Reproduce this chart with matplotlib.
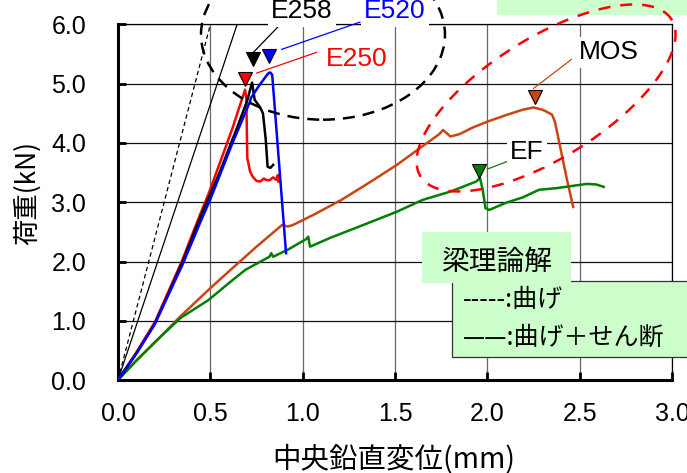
import numpy as np
import matplotlib
matplotlib.use('Agg')
import matplotlib.pyplot as plt
from matplotlib.patches import Ellipse, Rectangle

plt.rcParams['font.family'] = ['Liberation Sans', 'Noto Sans CJK JP', 'DejaVu Sans']

# ---------------- data ----------------
bend_x = [0.0, 0.50]
bend_y = [0.0, 6.0]
shear_x = [0.0, 0.645]
shear_y = [0.0, 6.0]

e250_x = [0, 0.10, 0.20, 0.345, 0.444, 0.49, 0.55, 0.62, 0.688, 0.695, 0.70, 0.715, 0.73,
          0.75, 0.77, 0.79, 0.80, 0.82, 0.84, 0.855, 0.866, 0.868]
e250_y = [0, 0.47, 0.98, 2.0, 2.79, 3.14, 3.65, 4.25, 4.90, 4.75, 3.75, 3.52, 3.43,
          3.36, 3.35, 3.40, 3.38, 3.37, 3.42, 3.38, 3.46, 3.35]

e258_x = [0, 0.10, 0.20, 0.345, 0.45, 0.55, 0.65, 0.70, 0.726, 0.74, 0.77, 0.785, 0.80, 0.81, 0.825, 0.84]
e258_y = [0, 0.45, 0.95, 1.96, 2.78, 3.50, 4.30, 4.72, 5.02, 4.73, 4.60, 4.50, 4.06, 3.60, 3.58, 3.63]

e520_x = [0, 0.10, 0.20, 0.35, 0.444, 0.50, 0.62, 0.715, 0.72, 0.76, 0.80, 0.815, 0.825, 0.835, 0.91]
e520_y = [0, 0.45, 0.95, 1.95, 2.65, 3.05, 4.00, 4.70, 4.76, 4.95, 5.12, 5.18, 5.19, 5.15, 2.14]

mos_x = [0, 0.10, 0.23, 0.33, 0.50, 0.61, 0.75, 0.89, 0.92, 0.95, 1.06, 1.21, 1.36, 1.51, 1.62,
         1.74, 1.76, 1.80, 1.85, 1.92, 2.00, 2.11, 2.19, 2.25, 2.30, 2.35, 2.366, 2.43, 2.465]
mos_y = [0, 0.33, 0.73, 1.05, 1.55, 1.86, 2.25, 2.62, 2.59, 2.62, 2.79, 3.04, 3.33, 3.63, 3.88,
         4.15, 4.22, 4.11, 4.15, 4.26, 4.36, 4.48, 4.56, 4.60, 4.56, 4.48, 4.36, 3.40, 2.92]

ef_x = [0, 0.10, 0.23, 0.34, 0.49, 0.61, 0.69, 0.82, 0.83, 0.84, 0.92, 1.02, 1.03, 1.04, 1.15,
        1.29, 1.51, 1.65, 1.80, 1.94, 1.96, 1.975, 1.99, 2.01, 2.10, 2.19, 2.28, 2.38, 2.47,
        2.54, 2.59, 2.63]
ef_y = [0, 0.33, 0.73, 1.05, 1.35, 1.66, 1.86, 2.08, 2.14, 2.08, 2.20, 2.38, 2.42, 2.25, 2.40,
        2.57, 2.84, 3.04, 3.18, 3.35, 3.41, 3.21, 2.90, 2.87, 2.99, 3.08, 3.21, 3.24, 3.28,
        3.31, 3.30, 3.26]

# peak markers (x, y)
mark_e250 = (0.688, 5.08)
mark_e258 = (0.731, 5.41)
mark_e520 = (0.818, 5.46)
mark_mos = (2.258, 4.78)
mark_ef = (1.955, 3.53)

xticks = [0.0, 0.5, 1.0, 1.5, 2.0, 2.5, 3.0]
yticks = [0.0, 1.0, 2.0, 3.0, 4.0, 5.0, 6.0]

C_RED = '#ff0000'
C_BLUE = '#0000ff'
C_MOS = '#cc4411'
C_EF = '#008000'
C_BOX = '#ccffcc'

# ---------------- figure ----------------
W, H = 687, 473
fig = plt.figure(figsize=(W / 100, H / 100), dpi=100)
ax_pos = [118 / W, (H - 380) / H, 554 / W, 355.5 / H]
ax = fig.add_axes(ax_pos)
ax.set_xlim(0, 3)
ax.set_ylim(0, 6)

ax.set_xticks(xticks)
ax.set_yticks(yticks)
ax.set_xticklabels([f'{v:.1f}' for v in xticks])
ax.set_yticklabels([f'{v:.1f}' for v in yticks])
ax.tick_params(direction='in', length=5.5, width=2.0, labelsize=18, colors='black')
ax.tick_params(axis='y', pad=23)
ax.tick_params(axis='x', pad=16)
ax.tick_params(top=False, right=False)

ax.set_axisbelow(True)
ax.grid(axis='y', color='#111111', lw=0.9)
ax.grid(axis='x', color='#666666', lw=0.9)
for s in ['left', 'bottom']:
    ax.spines[s].set_linewidth(2.2)
for s in ['top', 'right']:
    ax.spines[s].set_linewidth(0.9)

ax.set_xlabel('中央鉛直変位(mm)', fontsize=20.5, family=['Noto Sans CJK JP'])
ax.set_ylabel('荷重(kN)', fontsize=19, family=['Noto Sans CJK JP'])
ax.xaxis.set_label_coords((394 - 118) / 554, (380 - 444) / 355.5)
ax.yaxis.set_label_coords((41 - 118) / 554, (380 - 193) / 355.5)

# theory lines
ax.plot(bend_x, bend_y, color='black', lw=0.9, ls=(0, (3.5, 2.5)), zorder=2)
ax.plot(shear_x, shear_y, color='black', lw=0.9, zorder=2)

# experimental curves
ax.plot(mos_x, mos_y, color=C_MOS, lw=1.8, zorder=3)
ax.plot(ef_x, ef_y, color=C_EF, lw=1.8, zorder=3)
ax.plot(e250_x, e250_y, color=C_RED, lw=1.8, zorder=3)
ax.plot(e258_x, e258_y, color='black', lw=1.8, zorder=3)
ax.plot(e520_x, e520_y, color=C_BLUE, lw=1.8, zorder=3)

# markers
for (mx, my), c in [(mark_e250, C_RED), (mark_e258, 'black'), (mark_e520, C_BLUE),
                    (mark_mos, C_MOS), (mark_ef, C_EF)]:
    ax.plot([mx], [my], ls='none', marker='v', ms=10, mfc=c, mec='black', mew=0.8,
            clip_on=False, zorder=6)

# leader lines and labels
tb = dict(boxstyle='square,pad=0.12', fc='white', ec='none')
ax.plot([0.733, 0.885], [5.53, 6.02], color='black', lw=0.9, clip_on=False, zorder=5)
ax.plot([0.886, 1.31], [5.58, 6.04], color=C_BLUE, lw=0.9, clip_on=False, zorder=5)
ax.plot([0.751, 1.075], [5.18, 5.53], color=C_RED, lw=0.9, clip_on=False, zorder=5)
ax.plot([2.455, 2.25], [5.41, 4.92], color=C_MOS, lw=0.9, clip_on=False, zorder=5)
ax.plot([2.11, 2.0], [3.69, 3.56], color=C_EF, lw=0.9, clip_on=False, zorder=5)

ax.text(0.997, 6.22, 'E258', fontsize=19, color='black', ha='center', va='center',
        bbox=tb, clip_on=False, zorder=7)
ax.text(1.50, 6.22, 'E520', fontsize=19, color=C_BLUE, ha='center', va='center',
        bbox=tb, clip_on=False, zorder=7)
ax.text(1.294, 5.41, 'E250', fontsize=19, color=C_RED, ha='center', va='center',
        clip_on=False, zorder=7)
ax.text(2.658, 5.53, 'MOS', fontsize=19, color='black', ha='center', va='center',
        bbox=tb, clip_on=False, zorder=7)
ax.text(2.214, 3.845, 'EF', fontsize=19, color='black', ha='center', va='center',
        bbox=tb, clip_on=False, zorder=7)

# black dashed ellipse around E-series peaks
ax.add_patch(Ellipse((1.110, 5.83), 1.321, 2.873, fill=False, ec='black', lw=1.8,
                     ls=(0, (4.8, 3.2)), clip_on=False, zorder=4))

# red dashed ellipse (rotated on screen) around MOS / EF peaks
sx = 554 / 3.0
sy = 355.5 / 6.0
t = np.linspace(0, 2 * np.pi, 400)
a_px, b_px, th = 148.0, 60.0, np.deg2rad(32)
ex = 2.318 + (a_px * np.cos(t) * np.cos(th) - b_px * np.sin(t) * np.sin(th)) / sx
ey = 4.76 + (a_px * np.cos(t) * np.sin(th) + b_px * np.sin(t) * np.cos(th)) / sy
ax.plot(ex, ey, color=C_RED, lw=1.8, ls=(0, (4.8, 4.0)), clip_on=False, zorder=4)

# boxes (figure coordinates)
def fig_rect(x0, y0, x1, y1, **kw):
    r = Rectangle((x0 / W, 1 - y1 / H), (x1 - x0) / W, (y1 - y0) / H,
                  transform=fig.transFigure, clip_on=False, **kw)
    ax.add_patch(r)

fig_rect(497, -5, 690, 15, fc=C_BOX, ec='none', zorder=3.5)
fig_rect(452, 281, 692, 357, fc=C_BOX, ec='#333333', lw=0.9, zorder=8)
fig_rect(422, 232, 571, 283, fc=C_BOX, ec='none', zorder=8.5)

ax.text(497 / W, 1 - 262 / H, '梁理論解', transform=fig.transFigure, fontsize=20,
        family=['Noto Sans CJK JP'], ha='center', va='center', zorder=9, clip_on=False)
ax.text(463 / W, 1 - 300 / H, '-----:曲げ', transform=fig.transFigure, fontsize=18,
        family=['Noto Sans CJK JP'], ha='left', va='center', zorder=9, clip_on=False)
ax.text(463 / W, 1 - 338 / H, '——:曲げ＋せん断', transform=fig.transFigure, fontsize=18,
        family=['Noto Sans CJK JP'], ha='left', va='center', zorder=9, clip_on=False)

fig.savefig('out.png', dpi=100)
